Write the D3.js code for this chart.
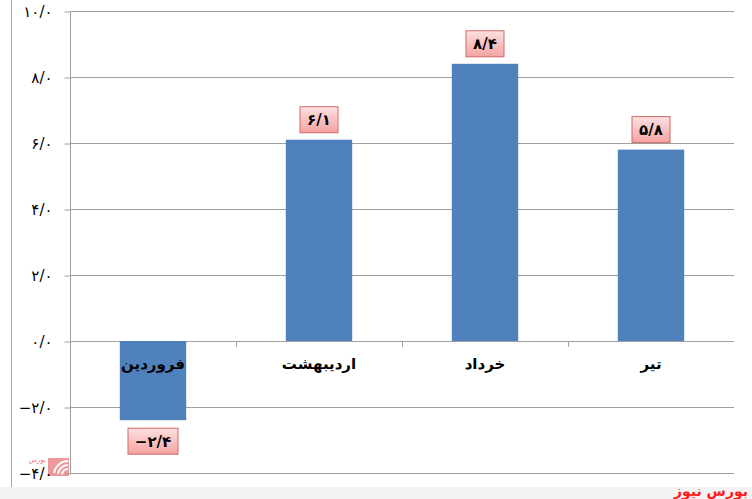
<!DOCTYPE html>
<html>
<head>
<meta charset="utf-8">
<script src="https://cdn.jsdelivr.net/npm/d3@7"></script>
<style>
html,body{margin:0;padding:0;background:#fff;}
svg{display:block;}
</style>
</head>
<body>
<svg id="chart" width="752" height="499"></svg>
<script>
const categories = ["فروردین", "اردیبهشت", "خرداد", "تیر"];
const values = [-2.4, 6.1, 8.4, 5.8];
const valueLabels = ["−۲/۴", "۶/۱", "۸/۴", "۵/۸"];
const tickValues = [-4, -2, 0, 2, 4, 6, 8, 10];
const tickLabels = ["−۴/۰", "−۲/۰", "۰/۰", "۲/۰", "۴/۰", "۶/۰", "۸/۰", "۱۰/۰"];
const sourceText = "بورس نیوز";

const svg = d3.select("#chart");
const W = 752, H = 499;
const plot = {left: 70, right: 734, top: 11, bottom: 473};

const defs = svg.append("defs");
const grad = defs.append("linearGradient").attr("id", "pink").attr("x1", 0).attr("y1", 0).attr("x2", 0).attr("y2", 1);
grad.append("stop").attr("offset", "0%").attr("stop-color", "#fde0e0");
grad.append("stop").attr("offset", "100%").attr("stop-color", "#f5a3a3");

const x = d3.scaleBand().domain(categories).range([plot.left, plot.right]).paddingInner(0.6).paddingOuter(0.3);
const y = d3.scaleLinear().domain([-4, 10]).range([plot.bottom, plot.top]);

// outer frame line at left
svg.append("line").attr("x1", 11.5).attr("x2", 11.5).attr("y1", 0).attr("y2", 487).attr("stroke", "#a6a6a6").attr("stroke-width", 1);

// bottom strip
svg.append("rect").attr("x", 0).attr("y", 487).attr("width", W).attr("height", H - 487).attr("fill", "#f3f3f3");

// gridlines
svg.append("g").selectAll("line").data(tickValues).join("line")
  .attr("x1", plot.left).attr("x2", plot.right)
  .attr("y1", d => Math.round(y(d)) + 0.5).attr("y2", d => Math.round(y(d)) + 0.5)
  .attr("stroke", "#a0a0a0").attr("stroke-width", 1);

// watermark logo bottom-left (behind labels)
const logo = svg.append("g").attr("transform", "translate(48,458)").attr("opacity", 0.75);
logo.append("rect").attr("x", 0).attr("y", 0).attr("width", 21).attr("height", 18).attr("fill", "#e8787c");
[5, 9, 13].forEach(r => {
  logo.append("path").attr("d", d3.arc()({innerRadius: r, outerRadius: r + 2, startAngle: -Math.PI / 2.2, endAngle: 0}))
    .attr("transform", "translate(20,17)").attr("fill", "#fff");
});
svg.append("text").attr("x", 46).attr("y", 462).attr("text-anchor", "end")
  .attr("font-family", "DejaVu Sans, sans-serif").attr("font-size", 7).attr("fill", "#e0404a").attr("opacity", 0.7)
  .text("بورس");

// y axis
const yAxis = d3.axisLeft(y).tickValues(tickValues).tickSize(6).tickFormat((d, i) => tickLabels[i]);
const gy = svg.append("g").attr("transform", `translate(${plot.left + 0.5},0.5)`).call(yAxis);
gy.select(".domain").attr("stroke", "#a0a0a0").attr("d", `M0,${y(10)}V${y(-4)}`);
gy.selectAll(".tick line").attr("stroke", "#a0a0a0");
gy.selectAll(".tick text")
  .attr("x", -18).attr("dy", "0.35em")
  .attr("font-family", "DejaVu Sans, sans-serif").attr("font-size", 15)
  .attr("letter-spacing", 2)
  .attr("fill", "#000").style("direction", "ltr").attr("text-anchor", "end");

// category boundary ticks on zero line
const step = x.step();
svg.append("g").selectAll("line").data(categories.slice(1)).join("line")
  .attr("x1", d => Math.round(x(d) - (step - x.bandwidth()) / 2) + 0.5)
  .attr("x2", d => Math.round(x(d) - (step - x.bandwidth()) / 2) + 0.5)
  .attr("y1", Math.round(y(0))).attr("y2", Math.round(y(0)) + 6)
  .attr("stroke", "#a0a0a0");

// bars
svg.append("g").selectAll("rect").data(values).join("rect")
  .attr("x", (d, i) => x(categories[i]))
  .attr("width", x.bandwidth())
  .attr("y", d => y(Math.max(0, d)))
  .attr("height", d => Math.abs(y(d) - y(0)))
  .attr("fill", "#4f81bd");

// category labels
svg.append("g").selectAll("text").data(categories).join("text")
  .attr("x", d => x(d) + x.bandwidth() / 2)
  .attr("y", y(0) + 28)
  .attr("text-anchor", "middle")
  .attr("font-family", "DejaVu Sans, sans-serif").attr("font-weight", "bold").attr("font-size", 15)
  .attr("fill", "#000")
  .text(d => d);

// value labels
const lg = svg.append("g").selectAll("g").data(values).join("g")
  .attr("transform", (d, i) => {
    const cx = x(categories[i]) + x.bandwidth() / 2;
    const cy = d >= 0 ? y(d) - 20 : y(d) + 21;
    return `translate(${cx},${cy})`;
  });
lg.append("rect")
  .attr("x", d => d < 0 ? -25 : -19)
  .attr("width", d => d < 0 ? 50 : 38)
  .attr("y", -13).attr("height", 26)
  .attr("fill", "url(#pink)").attr("stroke", "#d06a6a").attr("stroke-width", 1);
lg.append("text")
  .attr("text-anchor", "middle").attr("dy", "0.36em")
  .attr("font-family", "DejaVu Sans, sans-serif").attr("font-weight", "bold").attr("font-size", 15)
  .attr("letter-spacing", 1)
  .style("direction", "ltr")
  .attr("fill", "#000")
  .text((d, i) => valueLabels[i]);

// source text
svg.append("text").attr("x", 748).attr("y", 496).attr("text-anchor", "end")
  .attr("font-family", "DejaVu Sans, sans-serif").attr("font-weight", "bold").attr("font-size", 14)
  .attr("fill", "#ff1a1a")
  .text(sourceText);
</script>
</body>
</html>
